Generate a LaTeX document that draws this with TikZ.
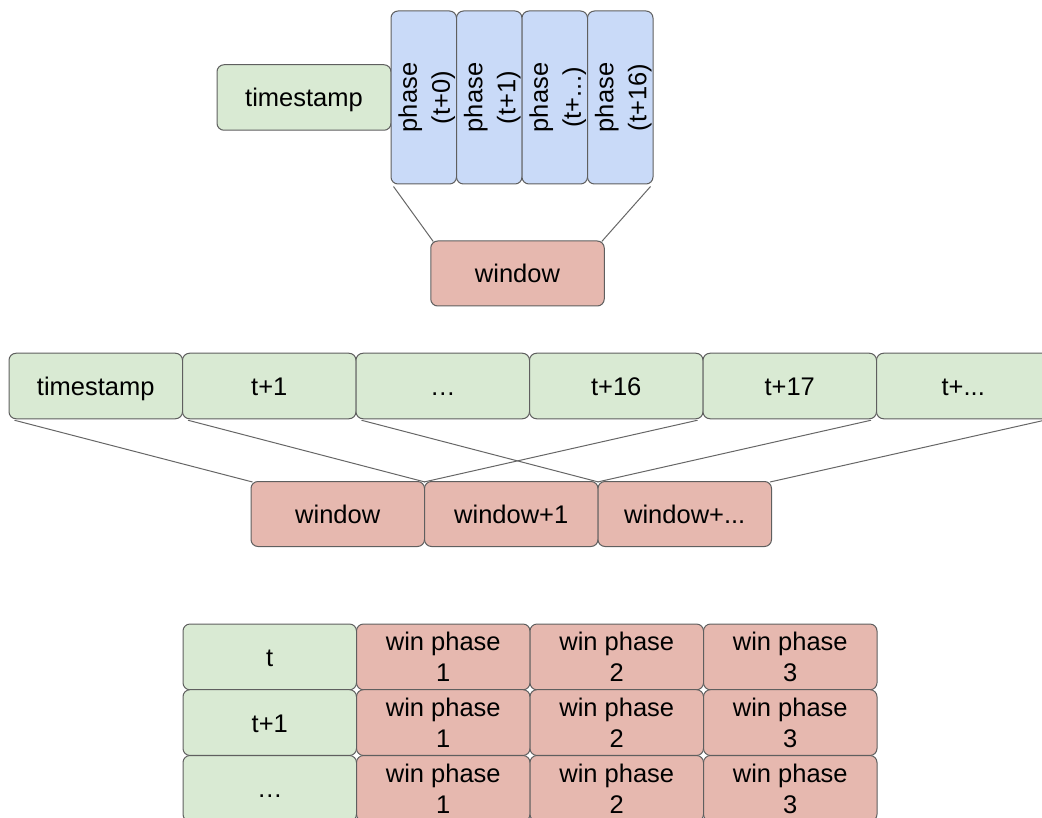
\documentclass[tikz,border=0pt]{standalone}
\usepackage{fontspec}
\setmainfont{Liberation Sans}
\begin{document}
\begin{tikzpicture}[x=1pt,y=-1pt,
  font=\fontsize{25.5pt}{29.5pt}\selectfont,
  box/.style={draw=edgegray, line width=1pt, rounded corners=7pt,
    inner sep=0pt, align=center, text=black},
  single/.style={text height=24pt, text depth=5pt},
  gcell/.style={box, single, fill=cellgreen, minimum width=173.5pt, minimum height=65.5pt},
  rcell/.style={box, single, fill=cellred, minimum width=173.5pt, minimum height=65pt},
  tgcell/.style={box, single, fill=cellgreen, minimum width=173.5pt, minimum height=65.75pt},
  trcell/.style={box, fill=cellred, minimum width=173.5pt, minimum height=65.75pt,
    font=\fontsize{25.5pt}{31pt}\selectfont},
  pcell/.style={box, fill=cellblue, minimum width=65.5pt, minimum height=173pt},
  ptext/.style={rotate=90, align=center, inner sep=0pt,
    font=\fontsize{25.5pt}{33pt}\selectfont},
  link/.style={draw=linkgray, line width=1pt}]
\definecolor{cellgreen}{HTML}{D9EAD3}
\definecolor{cellred}{HTML}{E6B8AF}
\definecolor{cellblue}{HTML}{C9DAF8}
\definecolor{edgegray}{HTML}{5F5F5F}
\definecolor{linkgray}{HTML}{666666}
\useasboundingbox (0,0) rectangle (1042,818);
\clip (0,0) rectangle (1042,818);

% --- one window: a timestamp with its phases ---
\node[gcell, minimum width=174pt] (ts) at (304,97.5) {timestamp};
\node[pcell] (p0) at (423.75,97.5) {};
\node[pcell] (p1) at (489.25,97.5) {};
\node[pcell] (p2) at (554.75,97.5) {};
\node[pcell] (p3) at (620.25,97.5) {};
\node[ptext] (p0t) at ([xshift=3pt]p0.center) {phase\\(t+0)};
\node[ptext] (p1t) at ([xshift=3pt]p1.center) {phase\\(t+1)};
\node[ptext] (p2t) at ([xshift=3pt]p2.center) {phase\\(t+...)};
\node[ptext] (p3t) at ([xshift=3pt]p3.center) {phase\\(t+16)};
\node[rcell] (w) at (517.5,273.5) {window};
\draw[link] ([xshift=3pt,yshift=-2pt]p0.south west) -- ([xshift=3pt,yshift=-1pt]w.north west);
\draw[link] ([xshift=-3pt,yshift=-2pt]p3.south east) -- ([xshift=-3pt,yshift=-1pt]w.north east);

% --- sliding windows over the timestamps ---
\node[gcell] (s0) at (95.75,386) {timestamp};
\node[gcell] (s1) at (269.25,386) {t+1};
\node[gcell] (s2) at (442.75,386) {…};
\node[gcell] (s3) at (616.25,386) {t+16};
\node[gcell] (s4) at (789.75,386) {t+17};
\node[gcell] (s5) at (963.25,386) {t+...};
\node[rcell] (w0) at (337.75,514) {window};
\node[rcell] (w1) at (511.25,514) {window+1};
\node[rcell] (w2) at (684.75,514) {window+...};
\draw[link] ([xshift=6pt,yshift=-1pt]s0.south west) -- ([xshift=2pt,yshift=-1pt]w0.north west);
\draw[link] ([xshift=-6pt,yshift=-1pt]s3.south east) -- ([xshift=-1pt,yshift=-1pt]w0.north east);
\draw[link] ([xshift=6pt,yshift=-1pt]s1.south west) -- ([xshift=1pt,yshift=-1pt]w1.north west);
\draw[link] ([xshift=-6pt,yshift=-1pt]s4.south east) -- ([xshift=-1pt,yshift=-1pt]w1.north east);
\draw[link] ([xshift=6pt,yshift=-1pt]s2.south west) -- ([xshift=1pt,yshift=-1pt]w2.north west);
\draw[link] ([xshift=-6pt,yshift=-1pt]s5.south east) -- ([xshift=-2pt,yshift=-1pt]w2.north east);

% --- table of window phases per timestamp ---
\node[tgcell] (r0) at (269.75,656.9) {t};
\node[trcell] (r0a) at (443.25,656.9) {win phase\\1};
\node[trcell] (r0b) at (616.75,656.9) {win phase\\2};
\node[trcell] (r0c) at (790.25,656.9) {win phase\\3};
\node[tgcell] (r1) at (269.75,722.6) {t+1};
\node[trcell] (r1a) at (443.25,722.6) {win phase\\1};
\node[trcell] (r1b) at (616.75,722.6) {win phase\\2};
\node[trcell] (r1c) at (790.25,722.6) {win phase\\3};
\node[tgcell] (r2) at (269.75,788.4) {…};
\node[trcell] (r2a) at (443.25,788.4) {win phase\\1};
\node[trcell] (r2b) at (616.75,788.4) {win phase\\2};
\node[trcell] (r2c) at (790.25,788.4) {win phase\\3};
\end{tikzpicture}
\end{document}
